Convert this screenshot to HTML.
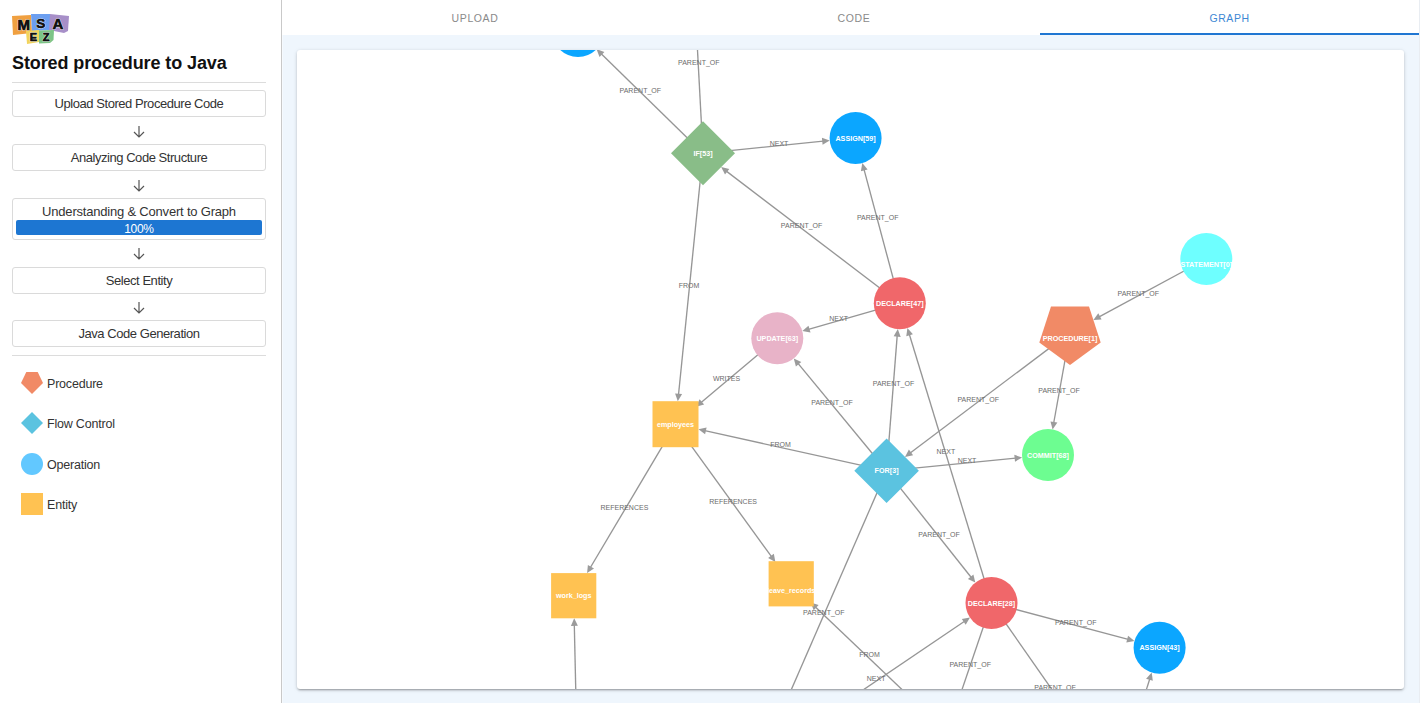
<!DOCTYPE html>
<html><head><meta charset="utf-8">
<style>
*{box-sizing:border-box;margin:0;padding:0}
html,body{width:1420px;height:703px;overflow:hidden;background:#fff;font-family:"Liberation Sans",sans-serif}
#side{position:absolute;left:0;top:0;width:282px;height:703px;background:#fff;border-right:1px solid #c9c9c9}
.logo{position:absolute;left:12px;top:14px;width:58px;height:32px}
.title{position:absolute;left:12px;top:52.5px;font-size:18px;font-weight:700;color:#111;white-space:nowrap;letter-spacing:-0.1px}
.hr{position:absolute;left:12px;width:254px;height:1px;background:#dcdcdc}
.btn{position:absolute;left:12px;width:254px;height:27px;border:1px solid #dadada;border-radius:3px;background:#fff;color:#333;font-size:13px;text-align:center;line-height:25px;letter-spacing:-0.45px;white-space:nowrap}
.arr{position:absolute;left:131px;width:16px;height:12px}
.prog{position:absolute;left:16px;top:220px;width:246px;height:15px;background:#1d76d2;border-radius:2px;color:#fff;font-size:12px;text-align:center;line-height:19px;letter-spacing:-0.3px}
.leg{position:absolute;left:21px;width:240px;height:22px}
.leg svg{position:absolute;left:0;top:0}
.leg span{position:absolute;left:26px;top:5px;font-size:12.5px;color:#333;letter-spacing:-0.2px}
#main{position:absolute;left:282px;top:0;width:1138px;height:703px;background:#eff6fd}
#tabs{position:absolute;left:0;top:0;width:1138px;height:35px;background:#fff}
.tab{position:absolute;top:0;width:200px;height:35px;text-align:center;font-size:10.5px;letter-spacing:0.6px;color:#8a8a8a;line-height:36px;text-indent:0.6px}
.tab.act{color:#3d87d4}
.ul{position:absolute;left:758px;top:33px;width:379px;height:2px;background:#1f76d2}
#card{position:absolute;left:15px;top:50px;width:1107px;height:639px;background:#fff;border-radius:3px;box-shadow:0 2px 2px -1px rgba(0,0,0,.25),0 1px 3px 0 rgba(0,0,0,.14),0 1px 5px 0 rgba(0,0,0,.08);overflow:hidden}
#card svg{position:absolute;left:0;top:0}
.edges line{stroke:#969696;stroke-width:1.35}
.edges .ar{fill:#9b9b9b}
.elab text{font-family:"Liberation Sans",sans-serif;font-size:7px;fill:#6b6b6b;text-anchor:middle}
.ntext text{font-family:"Liberation Sans",sans-serif;font-size:7.2px;font-weight:700;fill:#fff;text-anchor:middle}
</style></head><body>
<div id="side">
  <svg class="logo" viewBox="0 0 58 32" width="58" height="32">
    <polygon points="0,2 19,1 20,19 1,21" fill="#f0a040"/>
    <polygon points="19,0 38,0 38,16 20,17" fill="#6c9ff0"/>
    <polygon points="38,0 57,2 56,17 52,19 37,16" fill="#a78fc8"/>
    <polygon points="14,17 27,16 27,28 15,30" fill="#f2d45c"/>
    <polygon points="27,16.5 42,16 41.5,26 38,29 27,29.5" fill="#7cc486"/>
    <g font-family="Liberation Sans" font-weight="700" text-anchor="middle" fill="#111" stroke="#fff" stroke-width="1.1" paint-order="stroke" stroke-linejoin="round">
    <text x="11.6" y="15.5" font-size="15" style="letter-spacing:-0.5px">M</text>
    <text x="28.7" y="13.7" font-size="13.5">S</text>
    <text x="45.8" y="15.2" font-size="15">A</text>
    <text x="21.4" y="26.9" font-size="11">E</text>
    <text x="34.2" y="26.9" font-size="11">Z</text>
    </g>
    <g font-family="Liberation Sans" font-weight="700" text-anchor="middle" fill="#111" stroke="#111" stroke-width="0.45" stroke-linejoin="round">
    <text x="11.6" y="15.5" font-size="15" style="letter-spacing:-0.5px">M</text>
    <text x="28.7" y="13.7" font-size="13.5">S</text>
    <text x="45.8" y="15.2" font-size="15">A</text>
    <text x="21.4" y="26.9" font-size="11">E</text>
    <text x="34.2" y="26.9" font-size="11">Z</text>
    </g>
  </svg>
  <div class="title">Stored procedure to Java</div>
  <div class="hr" style="top:82px"></div>
  <div class="btn" style="top:90px">Upload Stored Procedure Code</div>
  <svg class="arr" style="top:126px" viewBox="0 0 16 12"><path d="M8 0V11M3 6L8 11L13 6" stroke="#555" stroke-width="1.2" fill="none"/></svg>
  <div class="btn" style="top:144px">Analyzing Code Structure</div>
  <svg class="arr" style="top:180px" viewBox="0 0 16 12"><path d="M8 0V11M3 6L8 11L13 6" stroke="#555" stroke-width="1.2" fill="none"/></svg>
  <div class="btn" style="top:198px;height:42px;line-height:25px;letter-spacing:-0.2px">Understanding &amp; Convert to Graph</div>
  <div class="prog">100%</div>
  <svg class="arr" style="top:248px" viewBox="0 0 16 12"><path d="M8 0V11M3 6L8 11L13 6" stroke="#555" stroke-width="1.2" fill="none"/></svg>
  <div class="btn" style="top:267px">Select Entity</div>
  <svg class="arr" style="top:302px" viewBox="0 0 16 12"><path d="M8 0V11M3 6L8 11L13 6" stroke="#555" stroke-width="1.2" fill="none"/></svg>
  <div class="btn" style="top:320px">Java Code Generation</div>
  <div class="hr" style="top:355px"></div>
  <div class="leg" style="top:372px"><svg width="22" height="22"><polygon points="5.3,0 16.7,0 22,11 11,22 0,11" fill="#f18a66"/></svg><span>Procedure</span></div>
  <div class="leg" style="top:412px"><svg width="22" height="22"><polygon points="11,0 22,11 11,22 0,11" fill="#5bc3e0"/></svg><span>Flow Control</span></div>
  <div class="leg" style="top:453px"><svg width="22" height="22"><circle cx="11" cy="11" r="11" fill="#62c8ff"/></svg><span>Operation</span></div>
  <div class="leg" style="top:493px"><svg width="22" height="22"><rect width="22" height="22" fill="#ffc252"/></svg><span>Entity</span></div>
</div>
<div id="main">
  <div style="position:absolute;right:0;top:0;width:1px;height:703px;background:#e9edf2;z-index:5"></div>
  <div style="position:absolute;left:0;top:35px;width:1px;height:668px;background:#f6fafe"></div>
  <div id="tabs">
    <div class="tab" style="left:92.7px">UPLOAD</div>
    <div class="tab" style="left:471.7px">CODE</div>
    <div class="tab act" style="left:847.3px">GRAPH</div>
    <div class="ul"></div>
  </div>
  <div id="card">
    <svg width="1107" height="639" viewBox="297 50 1107 639">
      <g class="edges">
<line x1="703.0" y1="153.3" x2="601.2" y2="53.7"/>
<polygon class="ar" points="596.6,49.2 604.4,51.9 599.5,56.9"/>
<line x1="703.0" y1="153.3" x2="685.9" y2="-167.0"/>
<line x1="703.0" y1="153.3" x2="823.3" y2="141.2"/>
<polygon class="ar" points="829.7,140.5 822.6,144.7 821.9,137.8"/>
<line x1="899.8" y1="303.2" x2="726.3" y2="171.1"/>
<polygon class="ar" points="721.2,167.1 729.3,168.9 725.0,174.5"/>
<line x1="899.8" y1="303.2" x2="864.0" y2="169.3"/>
<polygon class="ar" points="862.3,163.0 867.6,169.4 860.9,171.2"/>
<line x1="703.0" y1="153.3" x2="678.5" y2="394.7"/>
<polygon class="ar" points="677.8,401.2 675.1,393.4 682.1,394.1"/>
<line x1="899.8" y1="303.2" x2="808.5" y2="329.3"/>
<polygon class="ar" points="802.3,331.1 808.5,325.7 810.5,332.4"/>
<line x1="777.3" y1="338.3" x2="701.1" y2="402.6"/>
<polygon class="ar" points="696.1,406.8 699.6,399.3 704.1,404.6"/>
<line x1="886.6" y1="470.8" x2="798.0" y2="363.4"/>
<polygon class="ar" points="793.8,358.4 801.3,361.9 795.9,366.4"/>
<line x1="886.6" y1="470.8" x2="897.2" y2="335.6"/>
<polygon class="ar" points="897.8,329.1 900.7,336.9 893.7,336.3"/>
<line x1="991.5" y1="603.0" x2="909.3" y2="334.3"/>
<polygon class="ar" points="907.4,328.1 912.9,334.2 906.3,336.3"/>
<line x1="1206.3" y1="259.0" x2="1099.1" y2="316.9"/>
<polygon class="ar" points="1093.4,320.0 1098.3,313.3 1101.6,319.5"/>
<line x1="1070.0" y1="332.6" x2="910.2" y2="453.0"/>
<polygon class="ar" points="905.0,456.9 908.9,449.6 913.1,455.2"/>
<line x1="1070.0" y1="332.6" x2="1053.7" y2="423.0"/>
<polygon class="ar" points="1052.6,429.4 1050.5,421.4 1057.4,422.6"/>
<line x1="886.6" y1="470.8" x2="1015.7" y2="458.2"/>
<polygon class="ar" points="1022.1,457.5 1015.0,461.7 1014.3,454.8"/>
<line x1="886.6" y1="470.8" x2="704.8" y2="430.7"/>
<polygon class="ar" points="698.5,429.3 706.6,427.5 705.1,434.3"/>
<line x1="675.5" y1="424.2" x2="590.4" y2="567.5"/>
<polygon class="ar" points="587.1,573.1 587.9,564.9 594.0,568.4"/>
<line x1="675.5" y1="424.2" x2="771.5" y2="556.7"/>
<polygon class="ar" points="775.4,561.9 768.1,557.9 773.8,553.8"/>
<line x1="886.6" y1="470.8" x2="971.3" y2="577.5"/>
<polygon class="ar" points="975.3,582.6 967.9,578.9 973.4,574.6"/>
<line x1="991.5" y1="603.0" x2="1128.2" y2="639.4"/>
<polygon class="ar" points="1134.5,641.1 1126.3,642.6 1128.1,635.8"/>
<line x1="578.9" y1="829.6" x2="574.3" y2="624.8"/>
<polygon class="ar" points="574.2,618.3 577.9,625.7 570.9,625.9"/>
<line x1="886.6" y1="470.8" x2="706.8" y2="883.7"/>
<line x1="1082.1" y1="861.4" x2="815.4" y2="606.9"/>
<polygon class="ar" points="810.7,602.4 818.6,605.1 813.7,610.2"/>
<line x1="653.1" y1="832.2" x2="964.6" y2="621.2"/>
<polygon class="ar" points="970.0,617.6 965.7,624.7 961.8,618.9"/>
<line x1="991.5" y1="603.0" x2="920.5" y2="811.4"/>
<line x1="991.5" y1="603.0" x2="1142.1" y2="818.6"/>
<line x1="1121.2" y1="769.0" x2="1149.8" y2="678.8"/>
<polygon class="ar" points="1151.7,672.6 1152.8,680.8 1146.1,678.7"/>
      </g>
      <g class="elab">
<text x="640.3" y="92.5">PARENT_OF</text>
<text x="698.8" y="64.7">PARENT_OF</text>
<text x="779" y="145.5">NEXT</text>
<text x="801.6" y="228.3">PARENT_OF</text>
<text x="877.7" y="220.1">PARENT_OF</text>
<text x="689.1" y="288.4">FROM</text>
<text x="838.6" y="320.9">NEXT</text>
<text x="726.5" y="381.0">WRITES</text>
<text x="832" y="404.5">PARENT_OF</text>
<text x="893.5" y="386.4">PARENT_OF</text>
<text x="945.9" y="453.5">NEXT</text>
<text x="1138.3" y="295.7">PARENT_OF</text>
<text x="978.2" y="401.7">PARENT_OF</text>
<text x="1059" y="393.2">PARENT_OF</text>
<text x="967" y="462.7">NEXT</text>
<text x="780.6" y="447.4">FROM</text>
<text x="624.4" y="509.5">REFERENCES</text>
<text x="733.1" y="504.3">REFERENCES</text>
<text x="939.1" y="537.1">PARENT_OF</text>
<text x="1075.8" y="625.2">PARENT_OF</text>
<text x="823.8" y="614.9">PARENT_OF</text>
<text x="869.6" y="657.1">FROM</text>
<text x="876.1" y="680.5">NEXT</text>
<text x="970.2" y="666.9">PARENT_OF</text>
<text x="1055" y="689.5">PARENT_OF</text>
      </g>
      <g class="nodes">
<circle cx="578" cy="31" r="26" fill="#0ba6ff"/>
<polygon points="703,121.30000000000001 735,153.3 703,185.3 671,153.3" fill="#89bd88"/>
<circle cx="855.6" cy="137.9" r="26" fill="#0ba6ff"/>
<circle cx="899.8" cy="303.2" r="26" fill="#f0676a"/>
<circle cx="777.3" cy="338.3" r="26" fill="#e8b3c8"/>
<circle cx="1206.3" cy="259" r="26" fill="#6effff"/>
<polygon points="1070.0,364.9 1039.3,342.6 1051.0,306.5 1089.0,306.5 1100.7,342.6" fill="#f18a66"/>
<polygon points="886.6,438.5 918.9,470.8 886.6,503.1 854.3000000000001,470.8" fill="#5bc3e0"/>
<circle cx="1048" cy="455" r="26" fill="#6dfd91"/>
<rect x="652.5" y="401.2" width="46.0" height="46.0" fill="#ffc252"/>
<rect x="551.1" y="573.1" width="45.2" height="45.2" fill="#ffc252"/>
<rect x="768.6" y="561.2" width="45.2" height="45.2" fill="#ffc252"/>
<circle cx="991.5" cy="603" r="26" fill="#f0676a"/>
<circle cx="1159.6" cy="647.8" r="26" fill="#0ba6ff"/>
      </g>
      <g class="ntext">
<text x="703" y="155.9">IF[53]</text>
<text x="855.6" y="140.5">ASSIGN[59]</text>
<text x="899.8" y="305.8">DECLARE[47]</text>
<text x="777.3" y="340.9">UPDATE[63]</text>
<text x="1206.3" y="267.4">STATEMENT[0]</text>
<text x="1070" y="341.3">PROCEDURE[1]</text>
<text x="886.6" y="473.4">FOR[3]</text>
<text x="1048" y="457.6">COMMIT[68]</text>
<text x="675.5" y="426.8">employees</text>
<text x="573.7" y="598.3">work_logs</text>
<text x="791.2" y="592.6">leave_records</text>
<text x="991.5" y="605.6">DECLARE[28]</text>
<text x="1159.6" y="650.4">ASSIGN[43]</text>
      </g>
    </svg>
  </div>
</div>
</body></html>
